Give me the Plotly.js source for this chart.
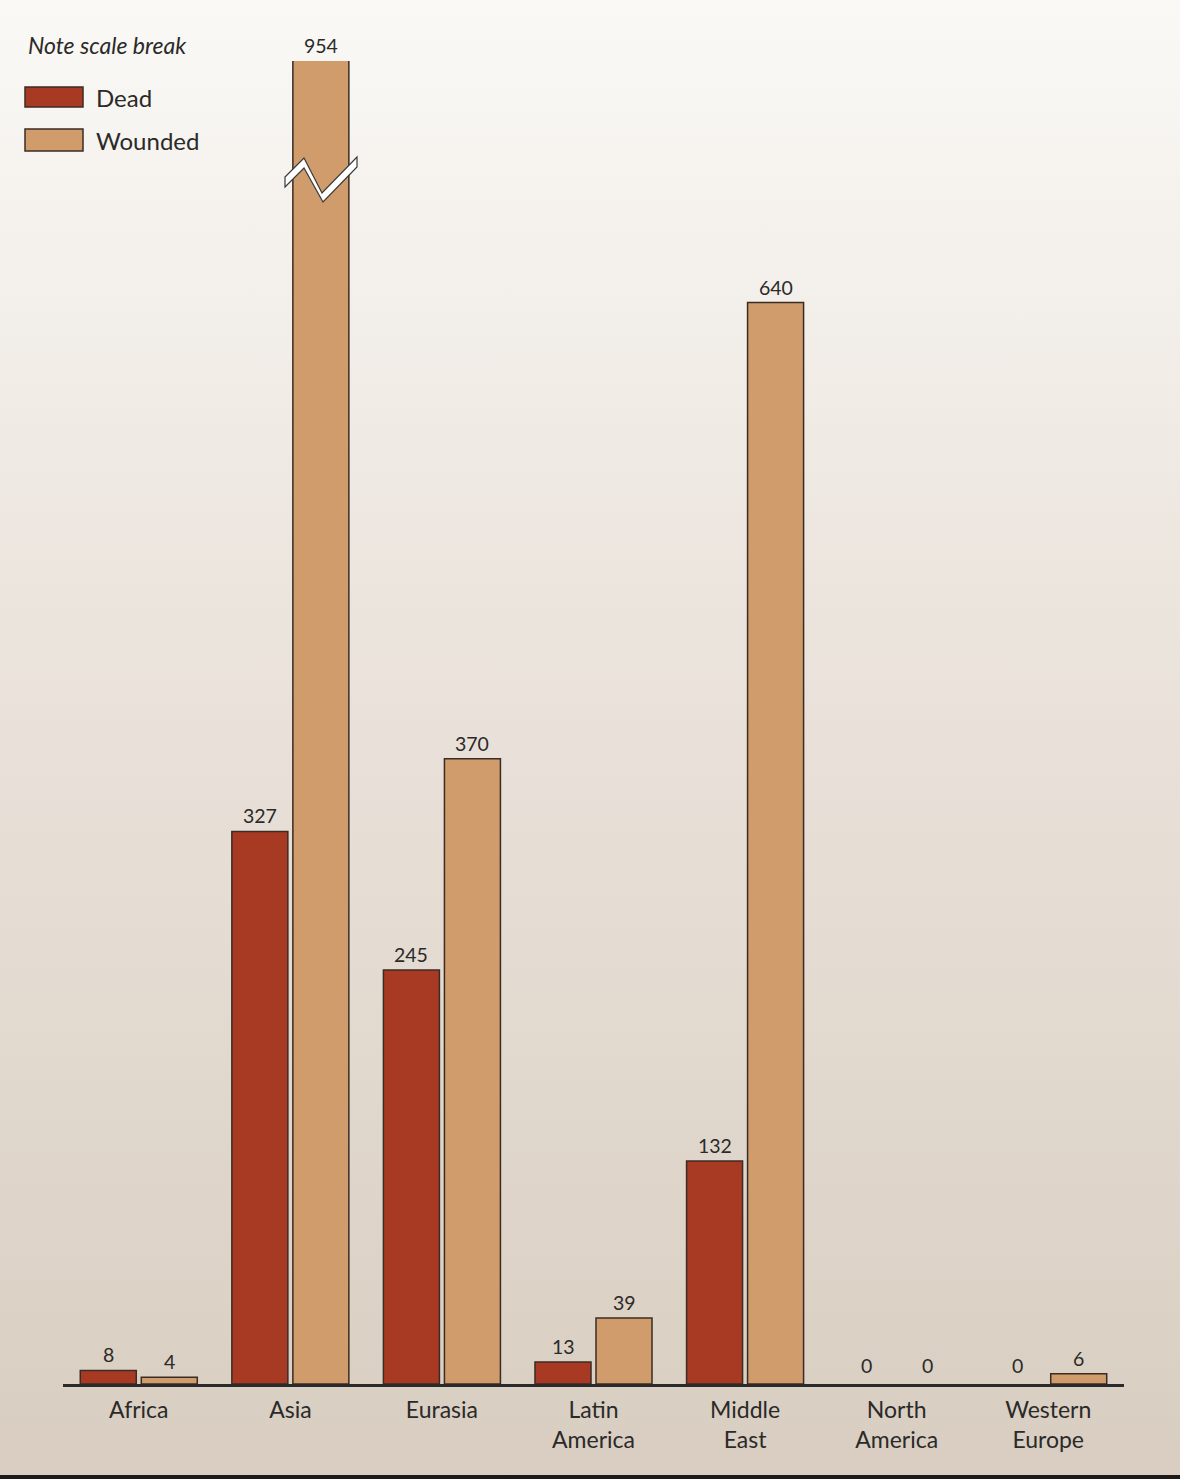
<!DOCTYPE html>
<html>
<head>
<meta charset="utf-8">
<script src="https://cdn.plot.ly/plotly-3.0.1.min.js"></script>
<style>
  html, body { margin: 0; padding: 0; }
  #wrap { position: relative; width: 1180px; height: 1479px;
          background: linear-gradient(to bottom, #faf9f6 0%, #ece5de 40%, #d8cdc0 100%); overflow: hidden; }
  #chart { position: absolute; left: 0; top: 0; width: 1180px; height: 1479px; }
  #band { position: absolute; left: 0; bottom: 0; width: 1180px; height: 4px; background: #1c1a19; }
</style>
</head>
<body>
<div id="wrap"><div id="chart"></div><div id="band"></div></div>
<script>
// ---- data ----
const categories = ['Africa', 'Asia', 'Eurasia', 'Latin<br>America', 'Middle<br>East', 'North<br>America', 'Western<br>Europe'];
const deadValues = [8, 327, 245, 13, 132, 0, 0];
const woundedValues = [4, 954, 370, 39, 640, 0, 6];
const seriesNames = ['Dead', 'Wounded'];
const noteText = 'Note scale break';

// ---- styling / geometry ----
const W = 1180, H = 1479, ML = 63, MR = 56, MT = 61, MB = 95;
const PW = W - ML - MR, PH = H - MT - MB;
const yMax = 783; // axis top; the 954 bar runs past it (scale break)
const px = x => (x - ML) / PW;
const py = y => (H - MB - y) / PH;
const deadColor = '#a83a23', woundColor = '#d09c6b', edge = '#3a2c24';
const txt = '#2b2a29';
const FONT = 'Lato, "Open Sans", sans-serif';
const bargap = 0.195, bargroupgap = 0.082;
const off = (1 - bargap) / 4; // center offset of each bar in a group

function barTrace(name, vals, color) {
  return { type: 'bar', name: name, x: categories.map((c, i) => i), y: vals,
    marker: { color: color, line: { color: edge, width: vals.map(v => v === 0 ? 0 : 1.5) } },
    hoverinfo: 'skip' };
}
const traces = [
  barTrace(seriesNames[0], deadValues, deadColor),
  barTrace(seriesNames[1], woundedValues, woundColor)
];

const annotations = [];
[deadValues, woundedValues].forEach((arr, s) => {
  arr.forEach((v, i) => {
    annotations.push({
      x: i + (s === 0 ? -off : off), y: Math.min(v, yMax), xref: 'x', yref: 'y',
      text: String(v), showarrow: false, yanchor: 'bottom', yshift: v === 0 ? 5 : 2,
      font: { family: FONT, size: 19.5, color: txt }
    });
  });
});

// legend (drawn manually to match wide swatches)
annotations.push({ x: px(26), y: py(45), xref: 'paper', yref: 'paper', xanchor: 'left', yanchor: 'middle',
  text: noteText, showarrow: false, font: { family: FONT, size: 23, color: txt, style: 'italic' } });
annotations.push({ x: px(94), y: py(97), xref: 'paper', yref: 'paper', xanchor: 'left', yanchor: 'middle',
  text: seriesNames[0], showarrow: false, font: { family: FONT, size: 24, color: txt } });
annotations.push({ x: px(94), y: py(140), xref: 'paper', yref: 'paper', xanchor: 'left', yanchor: 'middle',
  text: seriesNames[1], showarrow: false, font: { family: FONT, size: 24, color: txt } });

const pts = [[285,177],[304,158],[322,193],[357,157],[357,167],[323,202],[304,168],[285,187]];
const breakPath = 'M' + pts.map(p => px(p[0]) + ',' + py(p[1])).join(' L') + ' Z';

const shapes = [
  { type: 'rect', xref: 'paper', yref: 'paper', x0: px(25), x1: px(83), y0: py(107), y1: py(87),
    fillcolor: deadColor, line: { color: edge, width: 1.5 } },
  { type: 'rect', xref: 'paper', yref: 'paper', x0: px(25), x1: px(83), y0: py(151), y1: py(129),
    fillcolor: woundColor, line: { color: edge, width: 1.5 } },
  { type: 'path', xref: 'paper', yref: 'paper', path: breakPath, fillcolor: '#ffffff',
    line: { color: '#3a3a3a', width: 1.2 } }
];

const layout = {
  width: W, height: H,
  margin: { l: ML, r: MR, t: MT, b: MB, pad: 0 },
  paper_bgcolor: 'rgba(0,0,0,0)', plot_bgcolor: 'rgba(0,0,0,0)',
  barmode: 'group', bargap: bargap, bargroupgap: bargroupgap,
  showlegend: false,
  font: { family: FONT, color: txt },
  xaxis: {
    tickmode: 'array', tickvals: categories.map((c, i) => i), ticktext: categories,
    range: [-0.5, categories.length - 0.5],
    showline: true, linecolor: '#2a2a2a', linewidth: 2.5, ticks: '', showgrid: false, zeroline: false,
    tickfont: { family: FONT, size: 23, color: txt }, ticklabelstandoff: 4
  },
  yaxis: { range: [0, yMax], visible: false, showgrid: false, zeroline: false, fixedrange: true },
  annotations: annotations,
  shapes: shapes
};

Plotly.newPlot('chart', traces, layout, { displayModeBar: false, staticPlot: true });
</script>
</body>
</html>
